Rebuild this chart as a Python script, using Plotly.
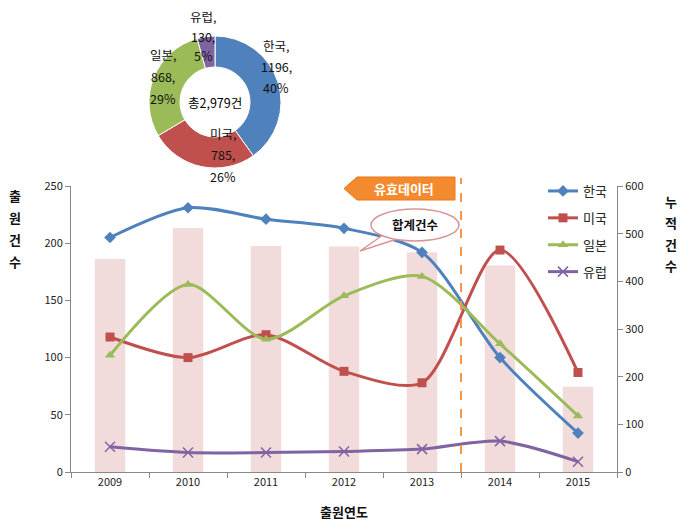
import plotly.graph_objects as go

# ---------------- data ----------------
years = [2009, 2010, 2011, 2012, 2013, 2014, 2015]
korea = [205, 231, 221, 213, 192, 100, 34]
usa = [118, 100, 120, 88, 78, 194, 87]
japan = [102, 164, 116, 154, 171, 112, 49]
europe = [22, 17, 17, 18, 20, 27, 9]
totals = [a + b + c + d for a, b, c, d in zip(korea, usa, japan, europe)]

series_names = ["한국", "미국", "일본", "유럽"]
pie_values = [1196, 785, 868, 130]
pie_pct = [40, 26, 29, 5]
pie_total_label = "총2,979건"

colors = ["#4F81BD", "#C0504D", "#9BBB59", "#8064A2"]
symbols = ["diamond", "square", "triangle-up", "x-thin"]
FONT = "Noto Sans CJK KR"

# The page body adds an 8px margin, so the figure is drawn at (8,8) on screen.
OFF = 8
W, H = 692 - 2 * OFF, 530 - 2 * OFF
# plot area in screen pixels
SX0, SX1, SY0, SY1 = 71, 617, 10, 472
L = SX0 - OFF
R = W - (SX1 - OFF)
T = SY0 - OFF
B = H - (SY1 - OFF)
PW, PH = SX1 - SX0, SY1 - SY0
def px(x):
    return (x - SX0) / PW
def py(y):
    return (SY1 - y) / PH
AX_TOP = py(186)

fig = go.Figure()

# cumulative bars (main y axis, right side, 0-600)
fig.add_trace(go.Bar(x=years, y=totals, width=0.39, marker=dict(color="#F2DCDB", line=dict(width=0)),
                     showlegend=False, yaxis="y", hoverinfo="skip"))

for i, (name, vals) in enumerate(zip(series_names, [korea, usa, japan, europe])):
    fig.add_trace(go.Scatter(
        x=years, y=vals, name=name, yaxis="y2", mode="lines+markers",
        line=dict(color=colors[i], width=3, shape="spline", smoothing=0.8),
        marker=dict(symbol=symbols[i], size=9 if i != 3 else 10, color=colors[i],
                    line=dict(color=colors[i], width=1.5 if i == 3 else 0)),
        legendgroup=name,
    ))

# donut
fig.add_trace(go.Pie(
    labels=series_names, values=pie_values, hole=0.53, sort=False, direction="clockwise",
    rotation=0, marker=dict(colors=colors, line=dict(color="white", width=1)),
    textinfo="none", showlegend=False,
    domain=dict(x=[px(148), px(282)], y=[py(168), py(36)]),
))

def ann(x, y, text, size=12, color="#111111"):
    return dict(x=px(x), y=py(y), xref="paper", yref="paper", text=text, showarrow=False,
                xanchor="center", yanchor="middle", font=dict(size=size, color=color, family=FONT))

annotations = []
# donut labels (one annotation per line)
label_pos = [(276, 45), (223, 133), (163, 55), (203, 17)]
for i, (name, val, pct) in enumerate(zip(series_names, pie_values, pie_pct)):
    cx, cy = label_pos[i]
    step = 21.5 if i != 3 else 19.5
    for j, t in enumerate([f"{name},", f"{val},", f"{pct}%"]):
        annotations.append(ann(cx, cy + j * step, t, 12.5))
annotations.append(ann(215, 102, pie_total_label, 12.5, "#000000"))

# axis titles (stacked characters)
for j, ch in enumerate("출원건수"):
    annotations.append(ann(15, 195 + j * 22.3, f"<b>{ch}</b>", 13))
for j, ch in enumerate("누적건수"):
    annotations.append(ann(671, 201 + j * 21.5, f"<b>{ch}</b>", 13))
annotations.append(ann(344, 511, "<b>출원연도</b>", 13))

# callouts
annotations.append(ann(404, 188.5, "<b>유효데이터</b>", 13, "white"))
annotations.append(ann(415, 225, "<b>합계건수</b>", 12.5, "#111111"))

def path(points):
    return "M " + " L ".join(f"{px(x):.5f},{py(y):.5f}" for x, y in points) + " Z"

shapes = [
    # dashed divider
    dict(type="line", xref="x", yref="paper", x0=2013.5, x1=2013.5, y0=py(472), y1=py(178),
         line=dict(color="#F79646", width=2, dash="dash"), layer="above"),
    # orange arrow box
    dict(type="path", xref="paper", yref="paper",
         path=path([(344, 188.5), (357, 177), (455, 177), (455, 200), (357, 200)]),
         fillcolor="#F38B2E", line=dict(color="#E9771A", width=1), layer="above"),
    # speech bubble tail
    dict(type="path", xref="paper", yref="paper",
         path=path([(383, 235), (360, 251), (397, 239)]),
         fillcolor="white", line=dict(color="#D99694", width=1.5), layer="above"),
    # speech bubble ellipse
    dict(type="circle", xref="paper", yref="paper", x0=px(371), x1=px(459), y0=py(241), y1=py(209),
         fillcolor="white", line=dict(color="#D99694", width=1.5), layer="above"),
]

fig.update_layout(
    width=W, height=H, margin=dict(l=L, r=R, t=T, b=B, autoexpand=False),
    paper_bgcolor="white", plot_bgcolor="white",
    font=dict(family=FONT, size=11, color="#222222"),
    xaxis=dict(range=[2008.5, 2015.5], tickvals=years, ticktext=[str(y) for y in years],
               ticks="", showgrid=False, zeroline=False, showline=True, linecolor="#888888",
               linewidth=1, tickfont=dict(size=11, color="#222222"),
               minor=dict(tick0=2008.5, dtick=1, ticks="outside", ticklen=5, tickcolor="#888888",
                          showgrid=False),
               domain=[0, 1]),
    yaxis=dict(range=[0, 600], tickvals=[0, 100, 200, 300, 400, 500, 600], side="right",
               ticks="outside", ticklen=5, tickcolor="#888888", showgrid=False, zeroline=False,
               showline=True, linecolor="#888888", domain=[0, AX_TOP],
               tickfont=dict(size=11, color="#222222")),
    yaxis2=dict(range=[0, 250], tickvals=[0, 50, 100, 150, 200, 250], side="left", overlaying="y",
                ticks="outside", ticklen=5, tickcolor="#888888", showgrid=False, zeroline=False,
                showline=True, linecolor="#888888", tickfont=dict(size=11, color="#222222")),
    legend=dict(x=px(543), y=py(176), xanchor="left", yanchor="top", bgcolor="rgba(0,0,0,0)",
                font=dict(size=13, family=FONT, color="#222222"), traceorder="grouped",
                tracegroupgap=7, itemwidth=30),
    annotations=annotations, shapes=shapes,
)

fig.write_html("out.html")
